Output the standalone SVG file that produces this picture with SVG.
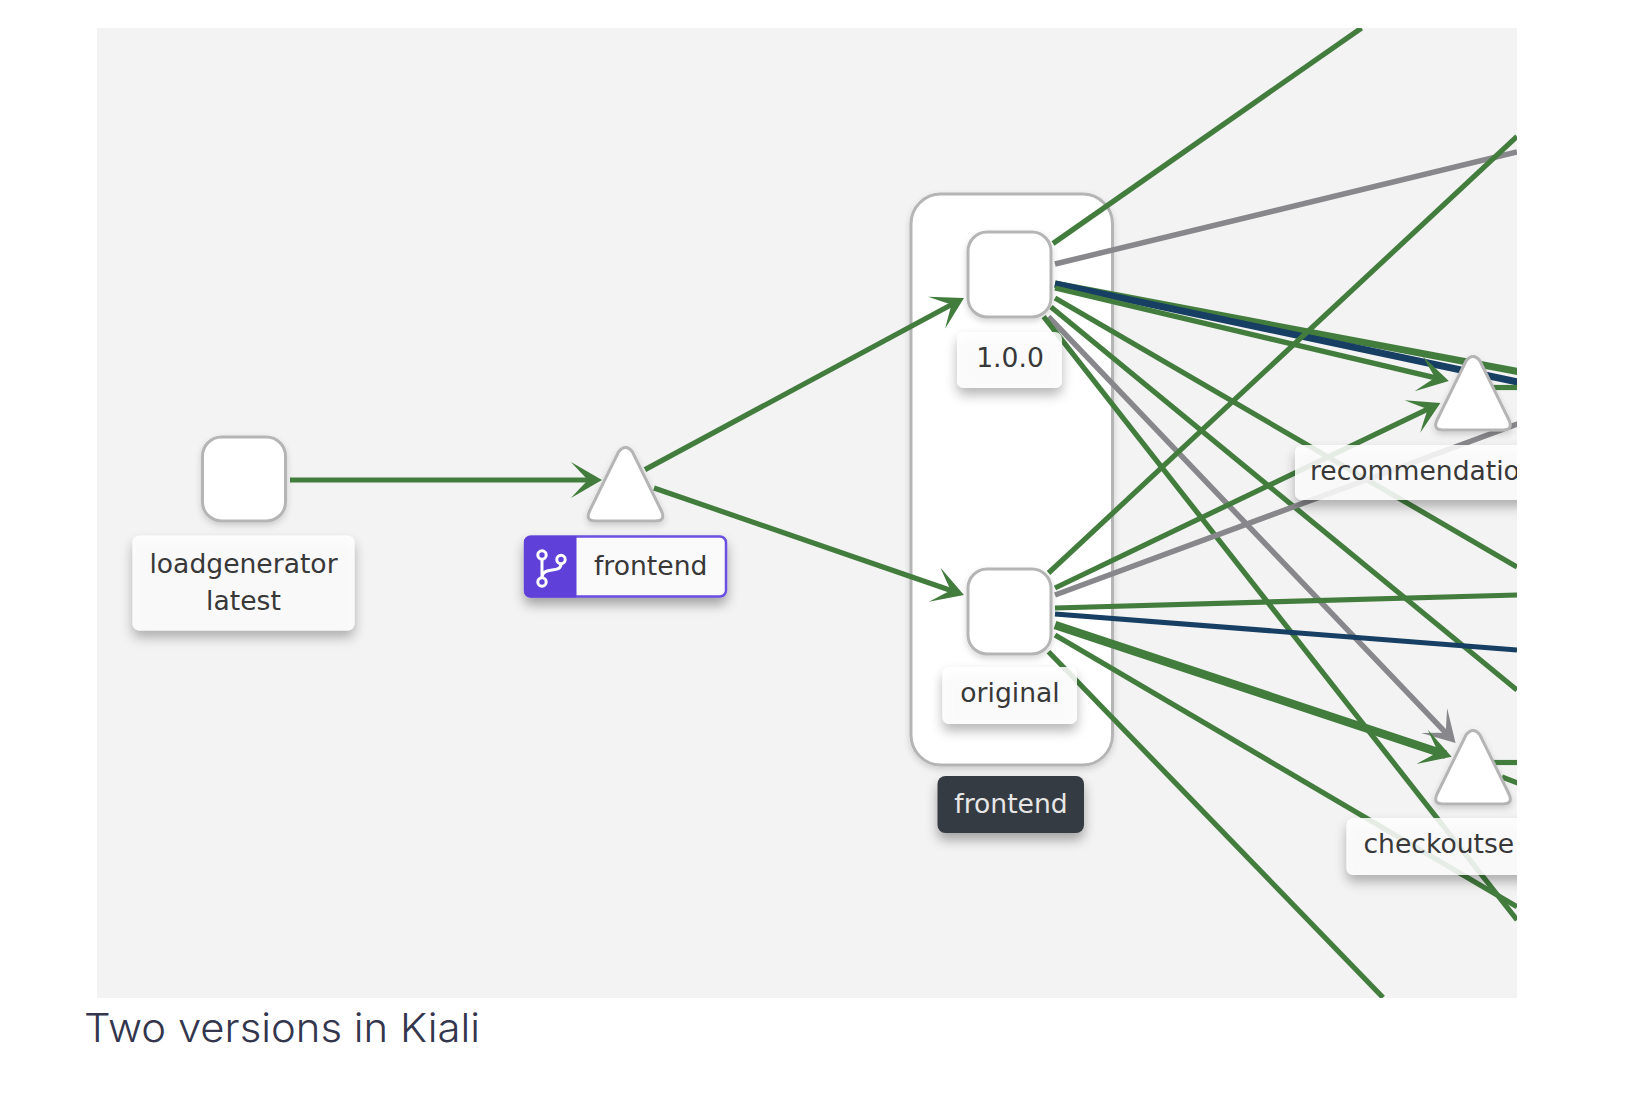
<svg xmlns="http://www.w3.org/2000/svg" width="1646" height="1104" viewBox="0 0 1646 1104">
<style>
.e{fill:none;stroke-linecap:butt}
.g{stroke:#437d3e;stroke-width:5.2}
.gt{stroke:#437d3e;stroke-width:8.5}
.gm{stroke:#437d3e;stroke-width:7}
.b{stroke:#173f63;stroke-width:5.2}
.bt{stroke:#173f63;stroke-width:7}
.y{stroke:#88888c;stroke-width:5.5}
.n{fill:#fff;stroke:#b5b5b5;stroke-width:3}
.l{fill:#fff;fill-opacity:.85;filter:url(#sh)}
.t{font-family:"DejaVu Sans",sans-serif;font-size:26.6px;fill:#383838;text-anchor:middle}
.ts{font-family:"DejaVu Sans",sans-serif;font-size:26.6px;fill:#383838}
</style>
<defs>
<filter id="sh" x="-30%" y="-40%" width="160%" height="210%"><feDropShadow dx="0" dy="7" stdDeviation="6" flood-color="#000" flood-opacity=".33"/></filter>
<filter id="ns" x="-20%" y="-20%" width="140%" height="140%"><feDropShadow dx="0" dy="3" stdDeviation="3" flood-color="#000" flood-opacity=".16"/></filter>
<marker id="ag" markerUnits="userSpaceOnUse" markerWidth="40" markerHeight="44" viewBox="-36 -22 40 44" refX="-6" refY="0" orient="auto"><path d="M0,0L-31,-18Q-21,-7 -14,0Q-21,7 -31,18Z" fill="#437d3e"/></marker>
<marker id="ay" markerUnits="userSpaceOnUse" markerWidth="40" markerHeight="44" viewBox="-36 -22 40 44" refX="-6" refY="0" orient="auto"><path d="M0,0L-31,-18Q-21,-7 -14,0Q-21,7 -31,18Z" fill="#88888c"/></marker>
<clipPath id="panel"><rect x="97" y="28" width="1420" height="970"/></clipPath>
<path id="tri" d="M-7,-69Q0,-78 7,-69L35.5,-11Q41,0 30,0L-30,0Q-41,0 -35.5,-11Z"/>
</defs>
<rect width="1646" height="1104" fill="#fff"/>
<rect id="background" x="97" y="28" width="1420" height="970" fill="#f3f3f3"/>
<g id="group-frontend"><rect x="911" y="194" width="201.5" height="571" rx="30" fill="#fff" stroke="#b5b5b5" stroke-width="3" filter="url(#ns)"/></g>
<g id="connectors" clip-path="url(#panel)">
<path class="e g" d="M290,480H596" marker-end="url(#ag)"/>
<path class="e g" d="M645,469.6L958.7,300.8" marker-end="url(#ag)"/>
<path class="e g" d="M654,488L958.3,593" marker-end="url(#ag)"/>
<path class="e g" d="M1053,243.5L1361.5,28"/>
<path class="e y" d="M1055,264L1517,152"/>
<path class="e gm" d="M1055,284L1520,372"/>
<path class="e bt" d="M1055,284L1520,382.5"/>
<path class="e g" d="M1055,288L1443,379.6" marker-end="url(#ag)"/>
<path class="e g" d="M1055,298L1517,567"/>
<path class="e g" d="M1051,307L1517,690"/>
<path class="e y" d="M1048.5,316.7L1451.4,738.7" marker-end="url(#ay)"/>
<path class="e g" d="M1043.6,316.7L1517,920"/>
<path class="e g" d="M1048.5,573L1517,136.5"/>
<path class="e g" d="M1055,588L1435,405.6" marker-end="url(#ag)"/>
<path class="e y" d="M1055,595L1520,423"/>
<path class="e g" d="M1055,608L1517,595"/>
<path class="e b" d="M1055,614L1517,650"/>
<path class="e gt" d="M1055,625L1445.9,754.8" marker-end="url(#ag)"/>
<path class="e g" d="M1055,635L1517,906.7"/>
<path class="e g" d="M1048.5,651.7L1383,997.5"/>
<path class="e g" d="M1493,387.5H1520"/>
<path class="e g" d="M1493,762.5H1520"/>
<path class="e g" d="M1502,777L1520,784"/>
</g>
<g id="node-loadgenerator">
<rect class="n" x="202.5" y="437" width="83" height="84" rx="19" filter="url(#ns)"/>
<rect class="l" x="132.5" y="535.5" width="222" height="95" rx="7"/>
<text class="t" x="243.5" y="573">loadgenerator</text>
<text class="t" x="243.5" y="610">latest</text>
</g>
<g id="node-frontend-service">
<use href="#tri" x="625.5" y="521" class="n" filter="url(#ns)"/>
<rect x="525" y="536.5" width="201" height="60" rx="6" fill="#fafafa" stroke="#6a4fe0" stroke-width="2.5" filter="url(#sh)"/>
<path d="M524,542a6,6 0 0 1 6,-6H576.5V597.5H530a6,6 0 0 1 -6,-6Z" fill="#5f41d9"/>
<g fill="#5f41d9" stroke="#fff" stroke-width="3">
<path d="M542,559V578M561,564C561,574 543,566 542,577" fill="none"/>
<circle cx="542" cy="555" r="4.2"/><circle cx="561" cy="559.5" r="4.2"/><circle cx="542" cy="582" r="4.2"/>
</g>
<text class="ts" x="594" y="575">frontend</text>
</g>
<g id="node-v100">
<rect class="n" x="968" y="232" width="83" height="85" rx="19" filter="url(#ns)"/>
<rect class="l" x="957" y="332" width="105" height="56" rx="7"/>
<text class="t" x="1010" y="367">1.0.0</text>
</g>
<g id="node-original">
<rect class="n" x="968" y="569" width="83" height="85" rx="19" filter="url(#ns)"/>
<rect class="l" x="942.5" y="667" width="134.5" height="57" rx="7"/>
<text class="t" x="1010" y="702">original</text>
</g>
<g id="label-frontend-group">
<rect x="937.5" y="776" width="146.5" height="57" rx="8" fill="#363a42" filter="url(#sh)"/>
<text class="t" x="1011" y="813" style="fill:#e6e6e6">frontend</text>
</g>
<g id="node-recommendation" clip-path="url(#panel)">
<use href="#tri" x="1473" y="430" class="n" filter="url(#ns)"/>
<rect class="l" x="1295" y="445" width="300" height="55" rx="7"/>
<text class="ts" x="1310" y="480">recommendatio</text>
</g>
<g id="node-checkout" clip-path="url(#panel)">
<use href="#tri" x="1473" y="804" class="n" filter="url(#ns)"/>
<rect class="l" x="1346.5" y="818" width="260" height="57" rx="7"/>
<text class="ts" x="1363.5" y="853">checkoutse</text>
</g>
<text id="caption" x="84" y="1042" font-family="Inter,Lato,sans-serif" font-weight="300" font-size="40" fill="#33364d" textLength="396" lengthAdjust="spacingAndGlyphs">Two versions in Kiali</text>
</svg>
